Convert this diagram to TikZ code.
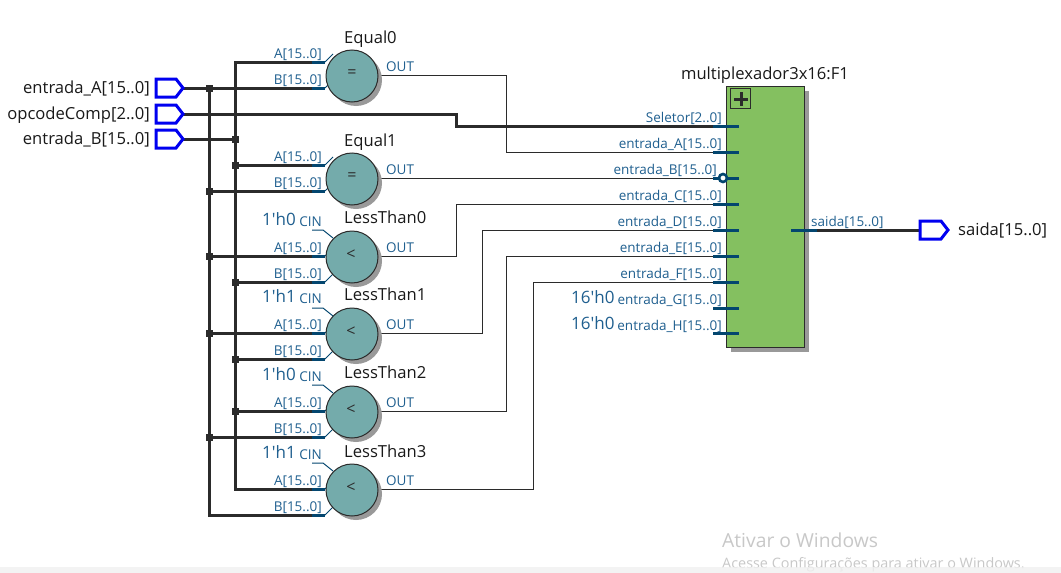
\documentclass[tikz,border=0pt]{standalone}
\usepackage{fontspec}
\setmainfont{Open Sans}
\newfontfamily\plainfont{Open Sans}
\definecolor{wirec}{HTML}{2B2B2B}
\definecolor{stubc}{HTML}{03466F}
\definecolor{lblc}{HTML}{1F5F8F}
\definecolor{tealc}{HTML}{74ABAB}
\definecolor{greenc}{HTML}{84C060}
\definecolor{shadc}{HTML}{999999}
\definecolor{pinc}{HTML}{0000F0}
\definecolor{wmc}{HTML}{C8C8C8}
\definecolor{stripc}{HTML}{F0F0F0}
\tikzset{
  x=1pt,y=-1pt,
  bus/.style={draw=wirec,line width=3pt},
  thinw/.style={draw=wirec,line width=1pt},
  stub/.style={draw=stubc,line width=3pt},
  stubthin/.style={draw=stubc,line width=1pt},
  pinout/.style={draw=pinc,line width=3pt,fill=white,miter limit=4},
  jct/.style={fill=wirec,inner sep=0pt,minimum size=7pt,shape=rectangle},
  main/.style={font=\fontsize{16.6}{18}\selectfont,text=black!90,inner sep=0pt},
  port/.style={font=\fontsize{13.5}{15}\selectfont,text=lblc,inner sep=0pt},
  const/.style={font=\plainfont\fontsize{17}{18}\selectfont,text=lblc,inner sep=0pt},
  cmpnode/.style={shape=circle,draw=wirec,line width=1pt,fill=tealc,minimum size=52pt,inner sep=0pt},
  cmpshadow/.style={shape=circle,fill=shadc,minimum size=52pt,inner sep=0pt},
  sym/.style={font=\fontsize{16}{16}\selectfont,text=wirec,inner sep=0pt},
}
% name, cy, ay, by, title, title baseline
\newcommand{\cmpblock}[6]{%
  \coordinate (#1a) at (312,#3);
  \coordinate (#1b) at (312,#4);
  \coordinate (#1ae) at (325,#3);
  \coordinate (#1be) at (325,#4);
  \coordinate (#1o) at (378,#2-1);
  \node[main,anchor=base west] (#1t) at (344,#6) {#5};
  \node[port,anchor=base east] (#1al) at (322,#3-4) {A[15..0]};
  \node[port,anchor=base east] (#1bl) at (322,#4-4) {B[15..0]};
  \node[port,anchor=base west] (#1ol) at (386,#2-5) {OUT};
}
% name, cy, symbol, symbol x
\newcommand{\cmpbody}[4]{%
  \draw[stub] (#1a) -- (#1ae);
  \draw[stub] (#1b) -- (#1be);
  \draw[stubthin] (#1ae) -- ++(8,-8);
  \draw[stubthin] (#1be) -- ++(8,-8);
  \node[cmpshadow] at (356,#2+4) {};
  \node[cmpnode] (#1) at (352,#2) {};
  \node[sym] (#1s) at (#4,#2-2) {#3};
}
\newcommand{\cinport}[4]{% name, y, const, baseline
  \coordinate (#1c) at (312,#2);
  \draw[stubthin] (#1c) -- (323,#2) -- (333,#2+8);
  \node[port,anchor=base east] (#1cl) at (322,#4) {CIN};
  \node[const,anchor=base west] (#1k) at (262,#4-1) {#3};
}
\newcommand{\muxport}[3]{% name, y, label
  \coordinate (#1) at (713,#2);
  \coordinate (#1e) at (739,#2);
  \node[port,anchor=base east] (#1l) at (722,#2-4) {#3};
}
\newcommand{\pinshape}[2]{%
  \draw[pinout] (#1-27,#2-9) -- (#1-7,#2-9) -- (#1,#2) -- (#1-7,#2+9) -- (#1-27,#2+9) -- cycle;
}
\begin{document}
\begin{tikzpicture}
\useasboundingbox (0,0) rectangle (1061,573);
\fill[white] (0,0) rectangle (1061,573);

\cmpblock{eq0}{76}{62}{88}{Equal0}{43}
\cmpblock{eq1}{179}{165}{191}{Equal1}{146}
\cmpblock{ltz}{257}{256}{282}{LessThan0}{223}
\cmpblock{lto}{334}{333}{359}{LessThan1}{300}
\cmpblock{ltw}{412}{411}{437}{LessThan2}{378}
\cmpblock{ltt}{490}{489}{515}{LessThan3}{457}

% multiplexer
\fill[shadc] (731,91) rectangle (809,352);
\node[draw=wirec,line width=1pt,fill=greenc,minimum width=78pt,minimum height=261pt,inner sep=0pt,anchor=north west] (mux) at (726,86) {};
\node[draw=wirec,line width=1pt,minimum size=20pt,inner sep=0pt,anchor=north west] (plus) at (730,88) {};
\draw[draw=wirec,line width=3pt] (734,99) -- (748,99) (741,92) -- (741,106);
\node[main,anchor=base] (muxt) at (765,79) {multiplexador3x16:F1};

\muxport{ms}{126}{Seletor[2..0]}
\muxport{ma}{152}{entrada\_A[15..0]}
\coordinate (mb) at (713,178); \coordinate (mbe) at (739,178);
\node[port,anchor=base east] (mbl) at (717,174) {entrada\_B[15..0]};
\muxport{mc}{204}{entrada\_C[15..0]}
\muxport{md}{230}{entrada\_D[15..0]}
\muxport{me}{256}{entrada\_E[15..0]}
\muxport{mf}{282}{entrada\_F[15..0]}
\muxport{mg}{308}{entrada\_G[15..0]}
\node[port,anchor=base east] (mhl) at (722,330) {entrada\_H[15..0]};
\coordinate (mh) at (713,333); \coordinate (mhe) at (739,333);
\node[const,anchor=base west] (kg) at (571,303) {16'h0};
\node[const,anchor=base west] (kh) at (571,329) {16'h0};

% pins
\coordinate (pa) at (183,88);
\coordinate (po) at (183,114);
\coordinate (pb) at (183,139);
\coordinate (busA) at (209,88);
\coordinate (busB) at (235,139);
\coordinate (mo) at (817,230);
\coordinate (moe) at (791,230);
\coordinate (pq) at (920,230);

% data buses
\draw[bus] (pa) -- (eq0b);
\draw[bus] (po) -| (456,126) -- (ms);
\draw[bus] (pb) -- (busB);
\draw[bus] (eq0a) -| (busB);
\draw[bus] (busB) |- (ltta);
\draw[bus] (busA) |- (lttb);
\draw[bus] (eq1a) -| (busB);
\draw[bus] (ltzb) -| (busB);
\draw[bus] (ltob) -| (busB);
\draw[bus] (ltwa) -| (busB);
\draw[bus] (eq1b) -| (busA);
\draw[bus] (ltza) -| (busA);
\draw[bus] (ltoa) -| (busA);
\draw[bus] (ltwb) -| (busA);
\draw[bus] (mo) -- (pq);

% junctions
\node[jct] (j1) at (busA) {};
\node[jct] (j2) at (busB) {};
\node[jct] (j3) at (busB |- eq1a) {};
\node[jct] (j4) at (busA |- eq1b) {};
\node[jct] (j5) at (busA |- ltza) {};
\node[jct] (j6) at (busB |- ltzb) {};
\node[jct] (j7) at (busA |- ltoa) {};
\node[jct] (j8) at (busB |- ltob) {};
\node[jct] (j9) at (busB |- ltwa) {};
\node[jct] (j10) at (busA |- ltwb) {};

% outputs
\draw[thinw] (eq0o) -| (506,152) -- (ma);
\draw[thinw] (eq1o) -- (mb);
\draw[thinw] (ltzo) -| (456,204) -- (mc);
\draw[thinw] (ltoo) -| (482,230) -- (md);
\draw[thinw] (ltwo) -| (506,256) -- (me);
\draw[thinw] (ltto) -| (533,282) -- (mf);

% comparator bodies
\cmpbody{eq0}{76}{=}{352}
\cmpbody{eq1}{179}{=}{352}
\cmpbody{ltz}{257}{<}{351}
\cmpbody{lto}{334}{<}{351}
\cmpbody{ltw}{412}{<}{351}
\cmpbody{ltt}{490}{<}{351}

\cinport{ltz}{230}{1'h0}{226}
\cinport{lto}{308}{1'h1}{303}
\cinport{ltw}{385}{1'h0}{381}
\cinport{ltt}{463}{1'h1}{459}

% mux stubs
\foreach \n in {ms,ma,mb,mc,md,me,mf,mg,mh}{
  \draw[stub] (\n) -- (\n e);
}
\draw[draw=stubc,line width=2.6pt,fill=white] (mb)+(10,0) circle (4pt);
\draw[stub] (moe) -- (mo);
\node[port,anchor=base west] (mol) at (811,226) {saida[15..0]};

% pin shapes and labels
\pinshape{183}{88}
\pinshape{183}{114}
\pinshape{183}{139}
\draw[pinout] (920,221) -- (941,221) -- (948,230) -- (941,239) -- (920,239) -- cycle;
\node[main,anchor=base east] (la) at (150,93) {entrada\_A[15..0]};
\node[main,anchor=base east] (lo) at (150,119) {opcodeComp[2..0]};
\node[main,anchor=base east] (lb) at (150,144) {entrada\_B[15..0]};
\node[main,anchor=base west] (lq) at (958,235) {saida[15..0]};

% watermark and bottom strip
\node[anchor=base west,inner sep=0pt,text=wmc,font=\fontsize{19.3}{21}\selectfont] (wm1) at (722,547) {Ativar o Windows};
\node[anchor=base west,inner sep=0pt,text=wmc,font=\fontsize{14.4}{16}\selectfont] (wm2) at (722,568) {Acesse Configurações para ativar o Windows.};
\fill[stripc,opacity=0.8] (0,567) rectangle (1061,573);
\end{tikzpicture}
\end{document}
